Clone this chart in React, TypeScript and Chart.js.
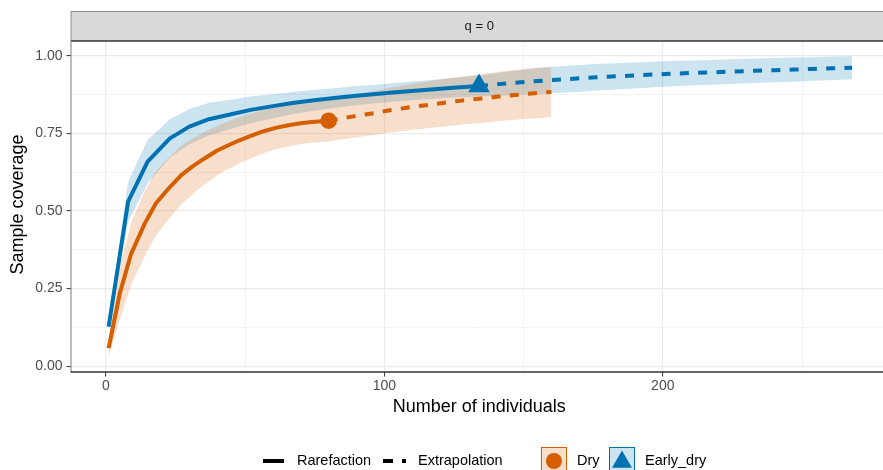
import { useEffect, useRef } from 'react';
import { Chart, registerables } from 'chart.js';
Chart.register(...registerables);

// ---- Data ----
const dryRareN = [1, 5, 9, 14, 18, 22, 27, 31, 35, 40, 44, 48, 53, 57, 61, 66, 70, 74, 79, 80];
const dryRareC = [0.058, 0.234, 0.36, 0.46, 0.525, 0.567, 0.615, 0.643, 0.667, 0.695, 0.712, 0.728, 0.745, 0.758, 0.768, 0.777, 0.783, 0.787, 0.79, 0.791];
const dryRareHalf = [0.028, 0.085, 0.1, 0.105, 0.103, 0.1, 0.095, 0.09, 0.085, 0.08, 0.077, 0.074, 0.072, 0.07, 0.069, 0.068, 0.067, 0.067, 0.067, 0.067];
const dryExtN = [80, 85, 89, 93, 98, 102, 106, 110, 114, 119, 123, 127, 131, 135, 139, 143, 148, 152, 156, 160];
const dryExtC = [0.791, 0.799, 0.805, 0.811, 0.818, 0.825, 0.83, 0.836, 0.84, 0.846, 0.851, 0.855, 0.859, 0.863, 0.867, 0.871, 0.875, 0.878, 0.881, 0.884];
const dryExtHalf = [0.067, 0.068, 0.069, 0.07, 0.071, 0.072, 0.073, 0.074, 0.075, 0.076, 0.077, 0.077, 0.078, 0.079, 0.079, 0.08, 0.08, 0.081, 0.081, 0.082];

const earlyRareN = [1, 8, 15, 23, 30, 37, 45, 52, 60, 67, 74, 82, 89, 97, 104, 111, 119, 126, 134];
const earlyRareC = [0.127, 0.53, 0.659, 0.734, 0.772, 0.796, 0.812, 0.826, 0.838, 0.848, 0.856, 0.864, 0.871, 0.877, 0.883, 0.888, 0.893, 0.898, 0.903];
const earlyRareHalf = [0.012, 0.065, 0.07, 0.062, 0.057, 0.053, 0.047, 0.043, 0.039, 0.036, 0.034, 0.032, 0.031, 0.03, 0.03, 0.03, 0.031, 0.032, 0.034];
const earlyExtN = [134, 141, 148, 155, 162, 169, 176, 183, 190, 197, 204, 211, 218, 226, 233, 240, 247, 254, 261, 268];
const earlyExtC = [0.903, 0.909, 0.914, 0.919, 0.923, 0.927, 0.931, 0.934, 0.937, 0.94, 0.943, 0.945, 0.947, 0.95, 0.952, 0.954, 0.956, 0.958, 0.96, 0.962];
const earlyExtHalf = [0.034, 0.037, 0.04, 0.042, 0.043, 0.043, 0.043, 0.042, 0.042, 0.041, 0.041, 0.04, 0.04, 0.04, 0.039, 0.039, 0.039, 0.038, 0.038, 0.037];

const dryObserved = { n: 80, c: 0.791 };
const earlyObserved = { n: 134, c: 0.903 };

const xMajorTicks = [0, 100, 200];
const xAllTicks = [0, 50, 100, 150, 200, 250];
const yAllTicks = [0, 0.125, 0.25, 0.375, 0.5, 0.625, 0.75, 0.875, 1];

const groups = ['Dry', 'Early_dry'];
const methods = ['Rarefaction', 'Extrapolation'];
const stripLabel = 'q = 0';
const xTitle = 'Number of individuals';
const yTitle = 'Sample coverage';

const ORANGE = '#D55E00';
const BLUE = '#0072B2';
const ORANGE_FILL = 'rgba(213,94,0,0.2)';
const BLUE_FILL = 'rgba(0,114,178,0.2)';
const FONT = '"Liberation Sans", Arial, sans-serif';

const pts = (ns: number[], cs: number[], off = 0) => ns.map((n, i) => ({ x: n, y: cs[i] + off }));
const band = (ns: number[], cs: number[], hs: number[], sign: number) =>
  ns.map((n, i) => ({ x: n, y: Math.min(1, Math.max(0, cs[i] + sign * hs[i])) }));

const isMajorY = (v: number) => Math.abs(v * 4 - Math.round(v * 4)) < 1e-6;

const decorPlugin = {
  id: 'decor',
  afterDraw(chart: any) {
    const { ctx, chartArea } = chart;
    const { left, right, top, bottom } = chartArea;
    ctx.save();
    // strip
    ctx.fillStyle = '#D9D9D9';
    ctx.fillRect(left, 11, right - left, top - 11);
    ctx.strokeStyle = '#8C8C8C';
    ctx.lineWidth = 1;
    ctx.beginPath();
    ctx.moveTo(left, 11.5);
    ctx.lineTo(right, 11.5);
    ctx.moveTo(left, 11);
    ctx.lineTo(left, top);
    ctx.stroke();
    ctx.strokeStyle = '#333333';
    ctx.lineWidth = 1.5;
    ctx.beginPath();
    ctx.moveTo(left, top);
    ctx.lineTo(right, top);
    ctx.stroke();
    ctx.fillStyle = '#1A1A1A';
    ctx.font = `13px ${FONT}`;
    ctx.textAlign = 'center';
    ctx.textBaseline = 'middle';
    ctx.fillText(stripLabel, (left + right) / 2, 26);

    // panel border
    ctx.strokeStyle = '#7A7A7A';
    ctx.lineWidth = 1;
    ctx.beginPath();
    ctx.moveTo(left, top);
    ctx.lineTo(left, bottom);
    ctx.stroke();
    ctx.strokeStyle = '#333333';
    ctx.lineWidth = 1.5;
    ctx.beginPath();
    ctx.moveTo(left - 0.5, bottom);
    ctx.lineTo(right, bottom);
    ctx.stroke();

    // axis titles
    ctx.fillStyle = '#000000';
    ctx.font = `18px ${FONT}`;
    ctx.fillText(xTitle, (left + right) / 2, 407);
    ctx.save();
    ctx.translate(18, (top + bottom) / 2 - 2);
    ctx.rotate(-Math.PI / 2);
    ctx.fillText(yTitle, 0, 0);
    ctx.restore();

    // legend
    const ly = 461;
    ctx.font = `14.5px ${FONT}`;
    ctx.textAlign = 'left';
    ctx.strokeStyle = '#000000';
    ctx.lineWidth = 4;
    ctx.lineCap = 'butt';
    ctx.beginPath();
    ctx.moveTo(263, ly);
    ctx.lineTo(284, ly);
    ctx.stroke();
    ctx.fillText(methods[0], 297, ly);
    ctx.setLineDash([10, 9]);
    ctx.beginPath();
    ctx.moveTo(383, ly);
    ctx.lineTo(406, ly);
    ctx.stroke();
    ctx.setLineDash([]);
    ctx.fillText(methods[1], 418, ly);

    // Dry key
    ctx.lineWidth = 1;
    ctx.fillStyle = ORANGE_FILL;
    ctx.fillRect(541.5, 447.5, 25, 26);
    ctx.strokeStyle = ORANGE;
    ctx.strokeRect(541.5, 447.5, 25, 26);
    ctx.fillStyle = ORANGE;
    ctx.beginPath();
    ctx.arc(554, 461, 8, 0, Math.PI * 2);
    ctx.fill();
    ctx.fillStyle = '#000000';
    ctx.fillText(groups[0], 577, ly);

    // Early_dry key
    ctx.fillStyle = BLUE_FILL;
    ctx.fillRect(609.5, 447.5, 25, 26);
    ctx.strokeStyle = BLUE;
    ctx.strokeRect(609.5, 447.5, 25, 26);
    ctx.fillStyle = BLUE;
    const r = 11.5;
    const cx = 622, cy = 462;
    ctx.beginPath();
    ctx.moveTo(cx, cy - r);
    ctx.lineTo(cx + r * Math.sin((2 * Math.PI) / 3), cy - r * Math.cos((2 * Math.PI) / 3));
    ctx.lineTo(cx + r * Math.sin((4 * Math.PI) / 3), cy - r * Math.cos((4 * Math.PI) / 3));
    ctx.closePath();
    ctx.fill();
    ctx.fillStyle = '#000000';
    ctx.fillText(groups[1], 645, ly);
    ctx.restore();
  },
};

export default function App() {
  const ref = useRef<HTMLCanvasElement | null>(null);
  useEffect(() => {
    if (!ref.current) return;
    const dryUpper = [...band(dryRareN, dryRareC, dryRareHalf, 1), ...band(dryExtN, dryExtC, dryExtHalf, 1).slice(1)];
    const dryLower = [...band(dryRareN, dryRareC, dryRareHalf, -1), ...band(dryExtN, dryExtC, dryExtHalf, -1).slice(1)];
    const earlyUpper = [...band(earlyRareN, earlyRareC, earlyRareHalf, 1), ...band(earlyExtN, earlyExtC, earlyExtHalf, 1).slice(1)];
    const earlyLower = [...band(earlyRareN, earlyRareC, earlyRareHalf, -1), ...band(earlyExtN, earlyExtC, earlyExtHalf, -1).slice(1)];

    const ribbon = (data: any[], fill: any, bg: string) => ({
      type: 'line', data, borderWidth: 0, pointRadius: 0, fill, backgroundColor: bg, order: 10, tension: 0,
    });
    const line = (data: any[], color: string, dashed: boolean) => ({
      type: 'line', data, borderColor: color, borderWidth: 4, pointRadius: 0, fill: false, order: 5,
      borderDash: dashed ? [9, 9.3] : [], borderCapStyle: 'butt', borderJoinStyle: 'round', tension: 0,
    });

    const chart = new Chart(ref.current, {
      type: 'line',
      data: {
        datasets: [
          { type: 'scatter', data: [{ x: dryObserved.n, y: dryObserved.c }], pointStyle: 'circle', pointRadius: 8.3, backgroundColor: ORANGE, borderWidth: 0, order: 1 },
          { type: 'scatter', data: [{ x: earlyObserved.n, y: earlyObserved.c }], pointStyle: 'triangle', pointRadius: 12.5, backgroundColor: BLUE, borderWidth: 0, order: 1 },
          line(pts(dryRareN, dryRareC), ORANGE, false),
          line(pts(dryExtN, dryExtC), ORANGE, true),
          line(pts(earlyRareN, earlyRareC), BLUE, false),
          line(pts(earlyExtN, earlyExtC), BLUE, true),
          ribbon(dryUpper, false, 'transparent'),
          ribbon(dryLower, '-1', ORANGE_FILL),
          ribbon(earlyUpper, false, 'transparent'),
          ribbon(earlyLower, '-1', BLUE_FILL),
        ] as any,
      },
      options: {
        responsive: false,
        maintainAspectRatio: false,
        animation: false,
        devicePixelRatio: 1,
        layout: { padding: { left: 0, right: 9, top: 41, bottom: 50 } },
        plugins: { legend: { display: false }, tooltip: { enabled: false } },
        scales: {
          x: {
            type: 'linear',
            min: -12.51,
            max: 280.7,
            afterBuildTicks: (s: any) => { s.ticks = xAllTicks.map((value) => ({ value })); },
            afterFit: (s: any) => { s.height = 48; },
            ticks: {
              autoSkip: false, maxRotation: 0, color: '#4D4D4D', padding: 1,
              font: { family: FONT, size: 14 },
              callback: (v: any) => (xMajorTicks.includes(v) ? String(v) : ''),
            },
            grid: {
              color: (c: any) => (c.tick && xMajorTicks.includes(c.tick.value) ? '#EBEBEB' : '#F3F3F3'),
              lineWidth: (c: any) => (c.tick && xMajorTicks.includes(c.tick.value) ? 1.2 : 1),
              tickColor: (c: any) => (c.tick && xMajorTicks.includes(c.tick.value) ? '#333333' : 'rgba(0,0,0,0)'),
              tickWidth: 1,
              tickLength: 4.5,
            },
            border: { display: false },
          },
          y: {
            type: 'linear',
            min: -0.019,
            max: 1.048,
            afterBuildTicks: (s: any) => { s.ticks = yAllTicks.map((value) => ({ value })); },
            afterFit: (s: any) => { s.width = 71; },
            ticks: {
              autoSkip: false, color: '#4D4D4D', padding: 4,
              font: { family: FONT, size: 14 },
              callback: (v: any) => (isMajorY(Number(v)) ? Number(v).toFixed(2) : ''),
            },
            grid: {
              color: (c: any) => (c.tick && isMajorY(c.tick.value) ? '#EBEBEB' : '#F3F3F3'),
              lineWidth: (c: any) => (c.tick && isMajorY(c.tick.value) ? 1.2 : 1),
              tickColor: (c: any) => (c.tick && isMajorY(c.tick.value) ? '#333333' : 'rgba(0,0,0,0)'),
              tickWidth: 1,
              tickLength: 4.5,
            },
            border: { display: false },
          },
        },
      } as any,
      plugins: [decorPlugin],
    });
    return () => chart.destroy();
  }, []);

  return (
    <div style={{ position: 'fixed', left: 0, top: 0, width: 883, height: 470, overflow: 'hidden', background: '#fff' }}>
      <canvas ref={ref} width={900} height={470} style={{ width: 900, height: 470, display: 'block' }} />
    </div>
  );
}
